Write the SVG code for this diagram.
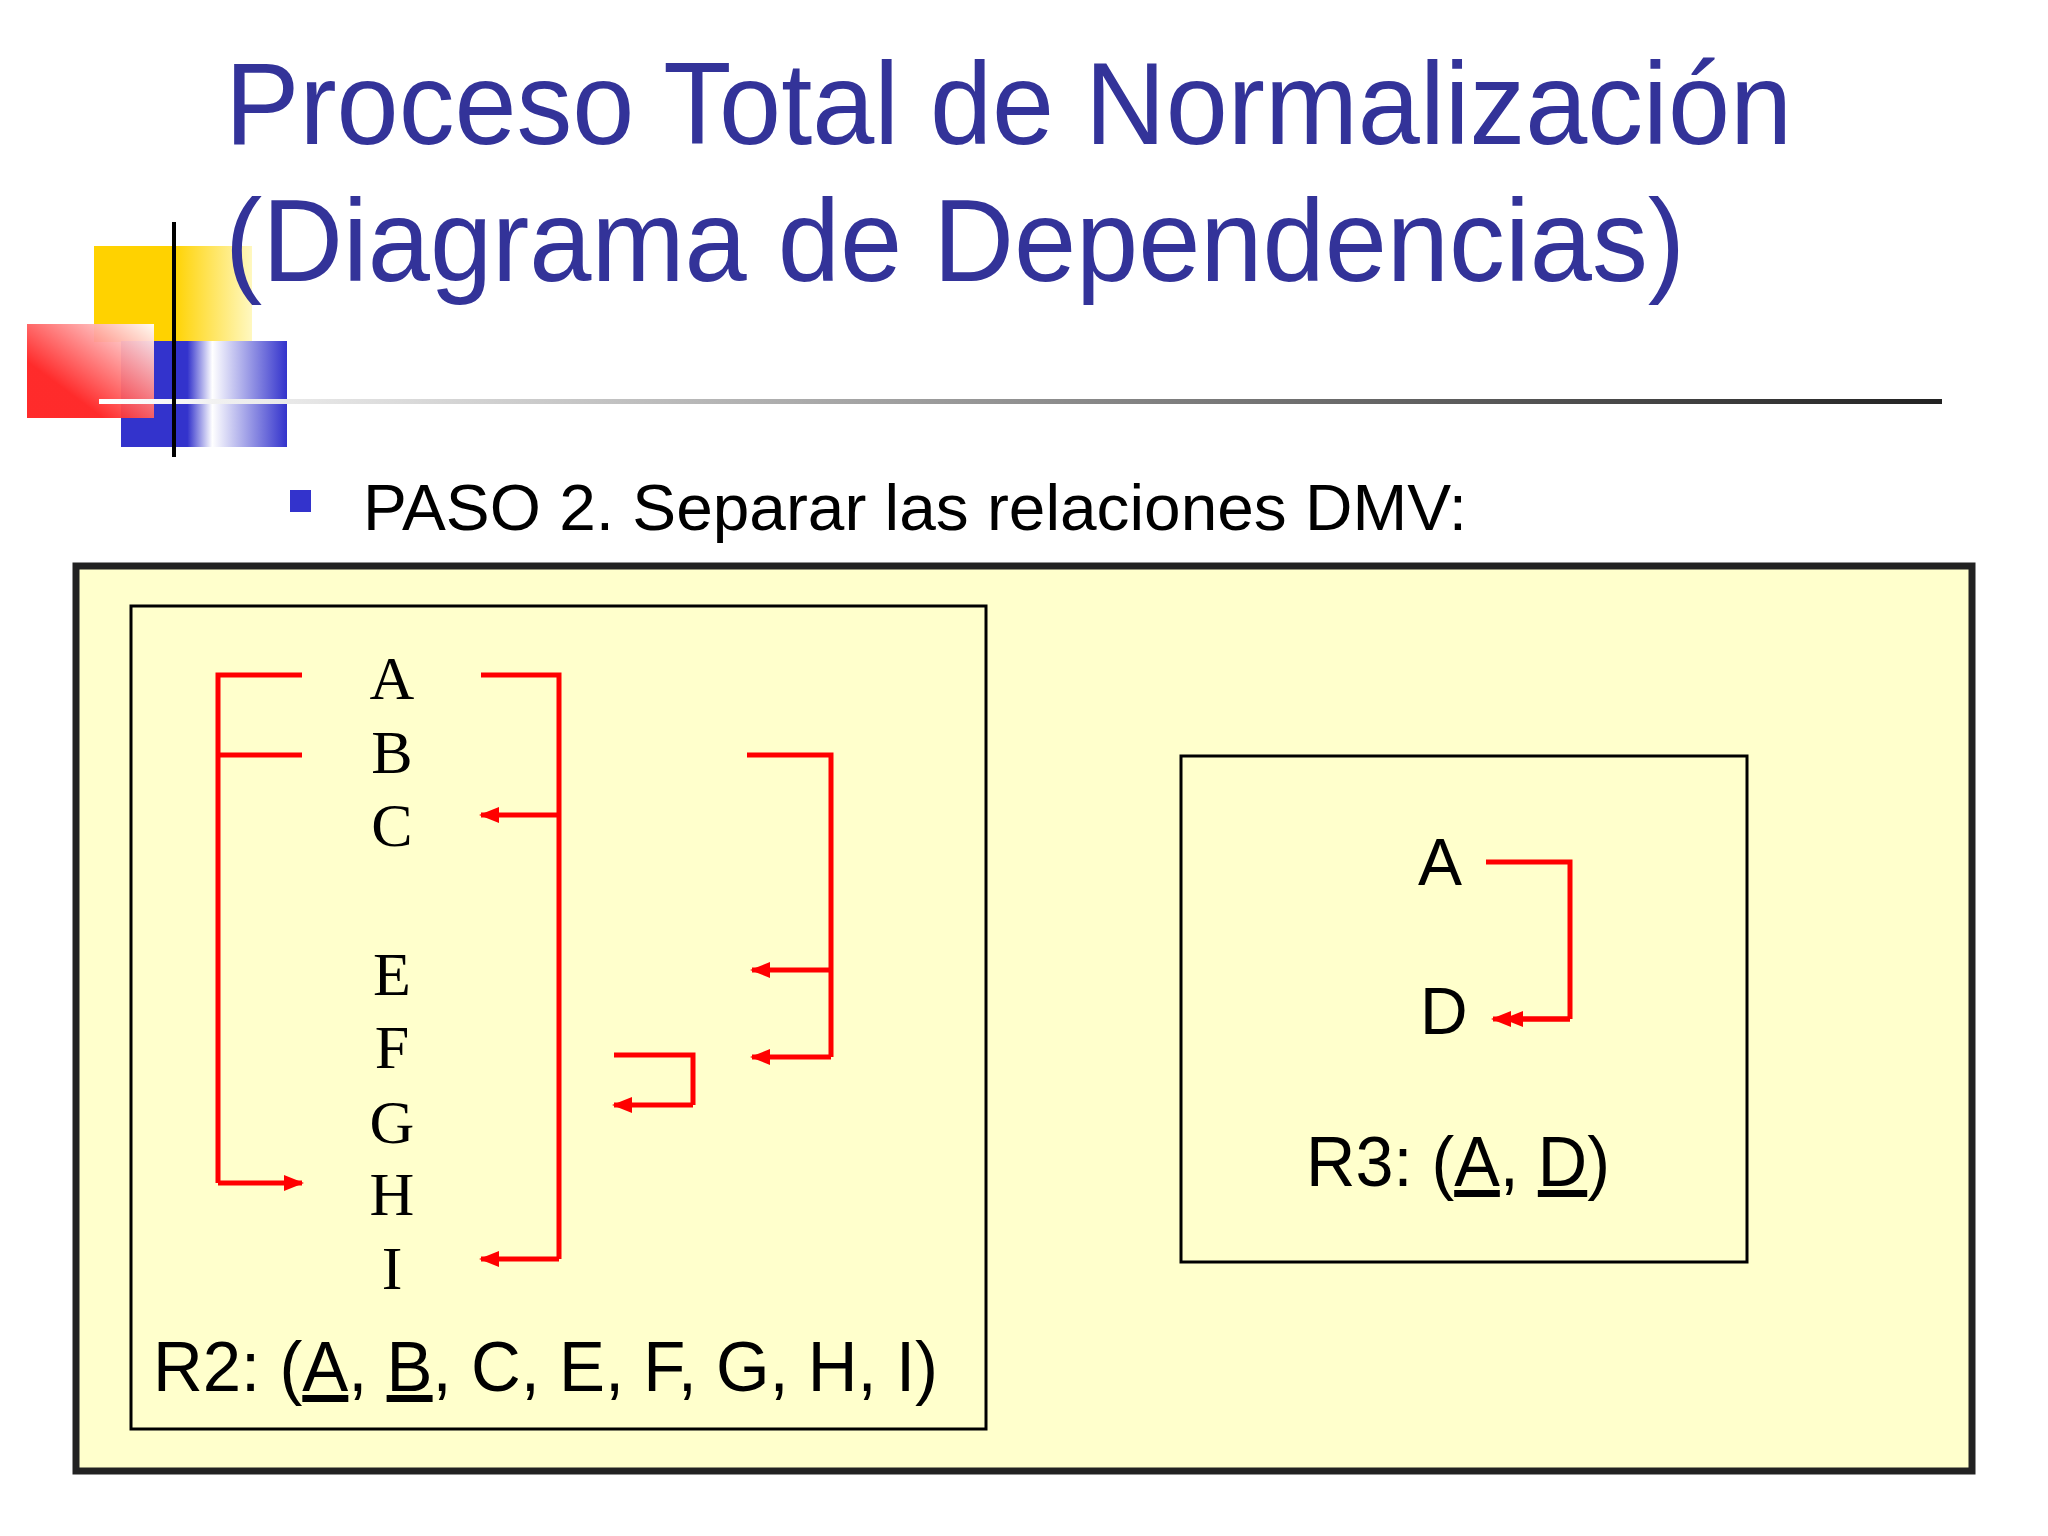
<svg xmlns="http://www.w3.org/2000/svg" width="2048" height="1536" viewBox="0 0 2048 1536">
<defs>
<linearGradient id="lg" x1="0" x2="1"><stop offset="0" stop-color="#fff"/><stop offset="1" stop-color="#222"/></linearGradient>
<linearGradient id="yg" x1="0" x2="1"><stop offset="0.5" stop-color="#ffd200"/><stop offset="1" stop-color="#fff8c0"/></linearGradient>
<linearGradient id="rg" x1="1" y1="0" x2="0" y2="1"><stop offset="0" stop-color="#fff"/><stop offset="0.7" stop-color="#ff2020"/></linearGradient>
<linearGradient id="bg" x1="0" x2="1"><stop offset="0.4" stop-color="#3333cc"/><stop offset="0.55" stop-color="#fff"/><stop offset="1" stop-color="#3333cc"/></linearGradient>
<marker id="ah" viewBox="0 0 10 10" refX="9" refY="5" markerWidth="4" markerHeight="4" orient="auto-start-reverse" markerUnits="strokeWidth"><path d="M0,1 L10,5 L0,9 z" fill="#ff0000"/></marker>
</defs>
<style>
.t{font-family:"Liberation Sans",Arial,sans-serif;fill:#333399}
.s{font-family:"Liberation Sans",Arial,sans-serif;fill:#000}
.l{font-family:"Liberation Serif","Times New Roman",serif;font-size:62px;text-anchor:middle;fill:#000}
.r{fill:none;stroke:#ff0000;stroke-width:5}
.a{marker-end:url(#ah)}
.u{text-decoration:underline}
</style>
<rect width="2048" height="1536" fill="#fff"/>
<rect x="94" y="246" width="158" height="96" fill="url(#yg)"/>
<rect x="121" y="341" width="166" height="106" fill="url(#bg)"/>
<rect x="27" y="324" width="127" height="94" fill="url(#rg)" opacity="0.95"/>
<rect x="99" y="399" width="1843" height="5" fill="url(#lg)"/>
<rect x="172" y="222" width="4" height="235" fill="#000"/>
<text class="t" x="225" y="144" font-size="116" textLength="1567" lengthAdjust="spacingAndGlyphs">Proceso Total de Normalización</text>
<text class="t" x="225" y="281" font-size="116" textLength="1460" lengthAdjust="spacingAndGlyphs">(Diagrama de Dependencias)</text>
<rect x="290" y="490" width="21" height="22" fill="#3333cc"/>
<text class="s" x="363" y="530" font-size="64" textLength="1104" lengthAdjust="spacingAndGlyphs">PASO 2. Separar las relaciones DMV:</text>
<rect x="76" y="566" width="1896" height="905" fill="#ffffcc" stroke="#222" stroke-width="7"/>
<g id="R2">
<rect x="131" y="606" width="855" height="823" fill="none" stroke="#000" stroke-width="3"/>
<text class="l" x="392" y="699">A</text><text class="l" x="392" y="773">B</text><text class="l" x="392" y="846">C</text>
<text class="l" x="392" y="995">E</text><text class="l" x="392" y="1068">F</text><text class="l" x="392" y="1143">G</text>
<text class="l" x="392" y="1215">H</text><text class="l" x="392" y="1289">I</text>
<text class="s" x="153" y="1391" font-size="70" textLength="785" lengthAdjust="spacingAndGlyphs">R2: (<tspan class="u">A</tspan>, <tspan class="u">B</tspan>, C, E, F, G, H, I)</text>
</g>
<g id="R3">
<rect x="1181" y="756" width="566" height="506" fill="none" stroke="#000" stroke-width="3"/>
<text class="s" x="1418" y="885" font-size="66">A</text>
<text class="s" x="1420" y="1034" font-size="66">D</text>
<text class="s" x="1306" y="1186" font-size="70" textLength="304" lengthAdjust="spacingAndGlyphs">R3: (<tspan class="u">A</tspan>, <tspan class="u">D</tspan>)</text>
</g>
<g id="connectors">
<path class="r" d="M302,675 H218 V1183"/>
<path class="r" d="M302,755 H218"/>
<path class="r a" d="M218,1183 H302"/>
<path class="r" d="M481,675 H559 V1259"/>
<path class="r a" d="M559,815 H481"/>
<path class="r a" d="M559,1259 H481"/>
<path class="r" d="M747,755 H831 V1057"/>
<path class="r a" d="M831,970 H752"/>
<path class="r a" d="M831,1057 H752"/>
<path class="r" d="M614,1055 H693 V1105"/>
<path class="r a" d="M693,1105 H614"/>
<path class="r" d="M1486,862 H1570 V1019"/>
<path class="r a" d="M1570,1019 H1493"/>
<path class="r a" d="M1570,1019 H1505"/>
</g>
</svg>
